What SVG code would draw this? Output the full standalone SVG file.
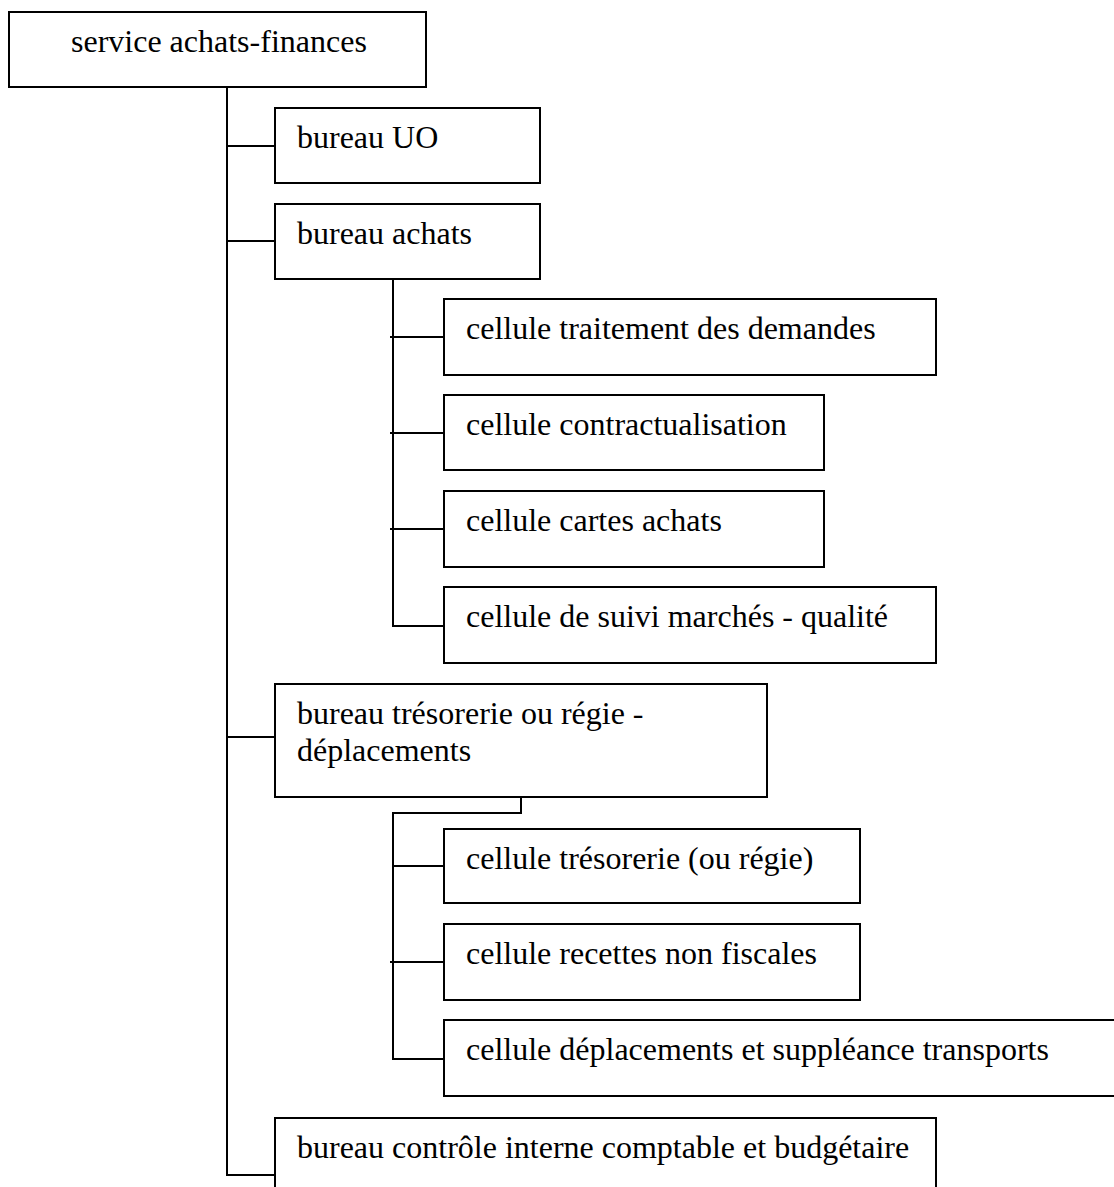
<svg xmlns="http://www.w3.org/2000/svg" width="1114" height="1187" viewBox="0 0 1114 1187">
<style>
.box{fill:#fff;stroke:#000;stroke-width:2}
.lbl{font-family:'Liberation Serif',serif;font-size:32px;fill:#000}
.con{fill:none;stroke:#000;stroke-width:2}
</style>
<rect width="1114" height="1187" fill="#fff"/>
<g id="connectors">
<path class="con" d="M227 87 V1175 H275"/>
<path class="con" d="M227 146 H275"/>
<path class="con" d="M227 241 H275"/>
<path class="con" d="M227 737 H275"/>
<path class="con" d="M393 279 V626 H444"/>
<path class="con" d="M390 337 H444"/>
<path class="con" d="M390 433 H444"/>
<path class="con" d="M390 529 H444"/>
<path class="con" d="M521 797 V813 H393 V1059 H444"/>
<path class="con" d="M393 866 H444"/>
<path class="con" d="M390 962 H444"/>
</g>
<g id="n-service">
<rect class="box" x="9" y="12" width="417" height="75"/>
<text class="lbl" x="71" y="52">service achats-finances</text>
</g>
<g id="n-uo">
<rect class="box" x="275" y="108" width="265" height="75"/>
<text class="lbl" x="297" y="148">bureau UO</text>
</g>
<g id="n-achats">
<rect class="box" x="275" y="204" width="265" height="75"/>
<text class="lbl" x="297" y="244">bureau achats</text>
</g>
<g id="n-traitement">
<rect class="box" x="444" y="299" width="492" height="76"/>
<text class="lbl" x="466" y="339">cellule traitement des demandes</text>
</g>
<g id="n-contract">
<rect class="box" x="444" y="395" width="380" height="75"/>
<text class="lbl" x="466" y="435">cellule contractualisation</text>
</g>
<g id="n-cartes">
<rect class="box" x="444" y="491" width="380" height="76"/>
<text class="lbl" x="466" y="531">cellule cartes achats</text>
</g>
<g id="n-suivi">
<rect class="box" x="444" y="587" width="492" height="76"/>
<text class="lbl" x="466" y="627">cellule de suivi marchés - qualité</text>
</g>
<g id="n-tresorerie">
<rect class="box" x="275" y="684" width="492" height="113"/>
<text class="lbl" x="297" y="724">bureau trésorerie ou régie -</text>
<text class="lbl" x="297" y="761">déplacements</text>
</g>
<g id="n-cell-tresorerie">
<rect class="box" x="444" y="829" width="416" height="74"/>
<text class="lbl" x="466" y="869">cellule trésorerie (ou régie)</text>
</g>
<g id="n-recettes">
<rect class="box" x="444" y="924" width="416" height="76"/>
<text class="lbl" x="466" y="964">cellule recettes non fiscales</text>
</g>
<g id="n-deplacements">
<rect class="box" x="444" y="1020" width="680" height="76"/>
<text class="lbl" x="466" y="1060">cellule déplacements et suppléance transports</text>
</g>
<g id="n-controle">
<rect class="box" x="275" y="1118" width="661" height="80"/>
<text class="lbl" x="297" y="1158">bureau contrôle interne comptable et budgétaire</text>
</g>
</svg>
